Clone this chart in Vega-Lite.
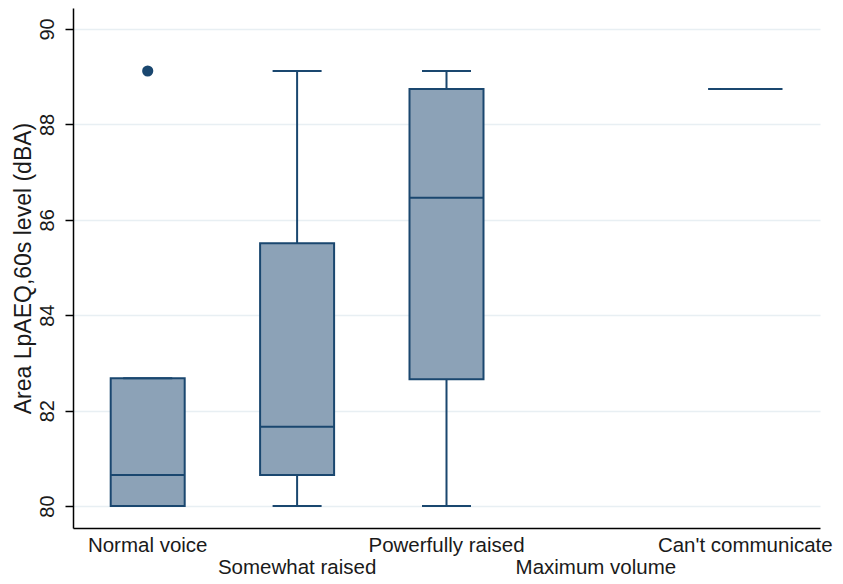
{
  "$schema": "https://vega.github.io/schema/vega-lite/v6.json",
  "width": 747,
  "height": 520,
  "autosize": {"type": "none"},
  "padding": {"left": 73, "top": 8, "right": 23, "bottom": 56},
  "background": "white",
  "config": {
    "view": {"stroke": null},
    "font": "Liberation Sans",
    "axis": {"labelFont": "Liberation Sans", "titleFont": "Liberation Sans", "labelColor": "#1a1a1a", "titleColor": "#1a1a1a", "titleFontWeight": "normal"}
  },
  "datasets": {
    "boxes": [
      {"group": "Normal voice", "lower": 80.0, "q1": 80.0, "median": 80.65, "q3": 82.68, "upper": 82.68},
      {"group": "Somewhat raised", "lower": 80.0, "q1": 80.65, "median": 81.66, "q3": 85.51, "upper": 89.12},
      {"group": "Powerfully raised", "lower": 80.0, "q1": 82.66, "median": 86.46, "q3": 88.74, "upper": 89.12},
      {"group": "Can't communicate", "lower": 88.74, "q1": 88.74, "median": 88.74, "q3": 88.74, "upper": 88.74}
    ],
    "outliers": [
      {"group": "Normal voice", "value": 89.12}
    ]
  },
  "encoding": {
    "x": {
      "field": "group",
      "type": "nominal",
      "scale": {"type": "band", "domain": ["Normal voice", "Somewhat raised", "Powerfully raised", "Maximum volume", "Can't communicate"], "paddingInner": 0, "paddingOuter": 0},
      "axis": {
        "title": null,
        "labelAngle": 0,
        "ticks": false,
        "grid": false,
        "labelFontSize": 20.5,
        "labelPadding": 7,
        "labelBaseline": "top",
        "labelLineHeight": 22,
        "labelOverlap": false,
        "labelExpr": "indexof(['Somewhat raised','Maximum volume'], datum.value) >= 0 ? ['', datum.value] : datum.value",
        "domainColor": "#000",
        "domainWidth": 1.5
      }
    }
  },
  "layer": [
    {
      "data": {"name": "boxes"},
      "mark": {"type": "rule", "color": "#1a476f", "strokeWidth": 2},
      "encoding": {
        "y": {
          "field": "lower",
          "type": "quantitative",
          "scale": {"domain": [79.54, 90.44], "nice": false, "zero": false},
          "axis": {
            "title": "Area LpAEQ,60s level (dBA)",
            "titleFontSize": 23,
            "titlePadding": 2,
            "values": [80, 82, 84, 86, 88, 90],
            "labelAngle": -90,
            "labelAlign": "center",
            "labelBaseline": "bottom",
            "labelFontSize": 20,
            "labelPadding": 8,
            "tickSize": 8,
            "tickColor": "#000",
            "tickWidth": 1.5,
            "domainColor": "#000",
            "domainWidth": 1.5,
            "grid": true,
            "gridColor": "#e8eff3",
            "gridWidth": 1.5
          }
        },
        "y2": {"field": "upper"}
      }
    },
    {
      "data": {"name": "boxes"},
      "mark": {"type": "bar", "size": 74, "fill": "#8ca2b7", "stroke": "#1a476f", "strokeWidth": 2},
      "encoding": {
        "y": {"field": "q1", "type": "quantitative"},
        "y2": {"field": "q3"}
      }
    },
    {
      "data": {"name": "boxes"},
      "mark": {"type": "tick", "size": 74, "thickness": 2, "color": "#1a476f", "orient": "horizontal", "opacity": 1},
      "encoding": {
        "y": {"field": "median", "type": "quantitative"}
      }
    },
    {
      "data": {"name": "boxes"},
      "mark": {"type": "tick", "size": 49, "thickness": 2, "color": "#1a476f", "orient": "horizontal", "opacity": 1},
      "encoding": {
        "y": {"field": "lower", "type": "quantitative"}
      }
    },
    {
      "data": {"name": "boxes"},
      "mark": {"type": "tick", "size": 49, "thickness": 2, "color": "#1a476f", "orient": "horizontal", "opacity": 1},
      "encoding": {
        "y": {"field": "upper", "type": "quantitative"}
      }
    },
    {
      "data": {"name": "outliers"},
      "mark": {"type": "point", "filled": true, "size": 125, "color": "#1a476f", "opacity": 1},
      "encoding": {
        "y": {"field": "value", "type": "quantitative"}
      }
    }
  ]
}
